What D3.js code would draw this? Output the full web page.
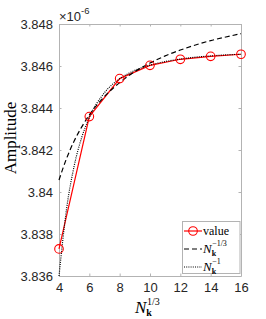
<!DOCTYPE html>
<html><head><meta charset="utf-8">
<script src="https://cdn.jsdelivr.net/npm/d3@7"></script>
<style>
body{margin:0;background:#fff;}
svg{display:block;}
</style></head>
<body><svg id="c" width="266" height="319"></svg>
<script>
// data (values in units of 1e-6)
const xValue = [4, 6, 8, 10, 12, 14, 16];
const yValue = [3.83729, 3.84359, 3.84540, 3.84603, 3.84632, 3.84646, 3.84656];
const xFit = [4, 4.5, 5, 5.5, 6, 7, 8, 9, 10, 11, 12, 13, 14, 15, 16];
const yFitCubeRoot = [3.84057, 3.84160, 3.84243, 3.84310, 3.84367, 3.84455, 3.84521, 3.84573, 3.84614, 3.84648, 3.84676, 3.84700, 3.84721, 3.84738, 3.84754];
const yFitInverse = [3.83600, 3.83920, 3.84124, 3.84260, 3.84355, 3.84473, 3.84539, 3.84579, 3.84604, 3.84621, 3.84633, 3.84642, 3.84648, 3.84653, 3.84656];
const xTicks = [4, 6, 8, 10, 12, 14, 16];
const yTicks = [3.836, 3.838, 3.84, 3.842, 3.844, 3.846, 3.848];
const yTickLabels = ["3.836", "3.838", "3.84", "3.842", "3.844", "3.846", "3.848"];

const svg = d3.select("#c");
const L = 59, R = 241, T = 24, B = 276;
const x = d3.scaleLinear().domain([4, 16]).range([L, R]);
const y = d3.scaleLinear().domain([3.836, 3.848]).range([B, T]);
const axisCol = "#b3b3b3";
const textCol = "#262626";
const sans = "'Liberation Sans', Arial, sans-serif";
const serif = "'Liberation Serif', 'Times New Roman', serif";

function styleAxis(g){
  g.selectAll("path.domain").attr("stroke", axisCol).attr("stroke-width", 1);
  g.selectAll(".tick line").attr("stroke", axisCol);
  g.selectAll(".tick text").attr("fill", textCol).attr("font-family", sans).attr("font-size", 13);
}
const gx = svg.append("g").attr("transform", `translate(0,${B})`)
  .call(d3.axisBottom(x).tickValues(xTicks).tickSizeInner(-2.5).tickSizeOuter(0).tickPadding(7).tickFormat(d3.format("d")));
styleAxis(gx);
const gxt = svg.append("g").attr("transform", `translate(0,${T})`)
  .call(d3.axisTop(x).tickValues(xTicks).tickSizeInner(-2.5).tickSizeOuter(0).tickFormat(""));
styleAxis(gxt);
const gy = svg.append("g").attr("transform", `translate(${L},0)`)
  .call(d3.axisLeft(y).tickValues(yTicks).tickSizeInner(-2.5).tickSizeOuter(0).tickPadding(6).tickFormat((d,i)=>yTickLabels[i]));
styleAxis(gy);
const gyr = svg.append("g").attr("transform", `translate(${R},0)`)
  .call(d3.axisRight(y).tickValues(yTicks).tickSizeInner(-2.5).tickSizeOuter(0).tickFormat(""));
styleAxis(gyr);

// exponent
const ex = svg.append("text").attr("x", L).attr("y", 21).attr("font-family", sans).attr("font-size", 13).attr("fill", textCol);
ex.append("tspan").text("×10");
ex.append("tspan").attr("dy", -7).attr("font-size", 9.5).text("-6");

// lines
const line = d3.line().x(d => x(d[0])).y(d => y(d[1]));
const smooth = d3.line().x(d => x(d[0])).y(d => y(d[1])).curve(d3.curveMonotoneX);
const dataCube = xFit.map((v,i)=>[v, yFitCubeRoot[i]]);
const dataInv = xFit.map((v,i)=>[v, yFitInverse[i]]);
const dataVal = xValue.map((v,i)=>[v, yValue[i]]);

svg.append("path").datum(dataVal).attr("d", line).attr("fill","none").attr("stroke","#ff0000").attr("stroke-width",1.2);
svg.append("path").datum(dataCube).attr("d", smooth).attr("fill","none").attr("stroke","#000").attr("stroke-width",1.2).attr("stroke-dasharray","5,3");
svg.append("path").datum(dataInv).attr("d", smooth).attr("fill","none").attr("stroke","#000").attr("stroke-width",1.2).attr("stroke-dasharray","1,1.2");
svg.selectAll("circle.pt").data(dataVal).enter().append("circle").attr("class","pt")
  .attr("cx", d=>x(d[0])).attr("cy", d=>y(d[1])).attr("r", 4.3)
  .attr("fill","none").attr("stroke","#ff0000").attr("stroke-width",1.1);

// axis labels
const xl = svg.append("text").attr("x", 135).attr("y", 313).attr("font-family", serif).attr("fill", "#000");
xl.append("tspan").attr("font-style","italic").attr("font-size",17).text("N");
xl.append("tspan").attr("font-weight","bold").attr("font-size",10).attr("dy",3).text("k");
xl.append("tspan").attr("font-size",10).attr("dy",-11).attr("dx",-5).text("1/3");

svg.append("text").attr("transform","translate(16,138) rotate(-90)").attr("text-anchor","middle")
  .attr("font-family", serif).attr("font-size", 17).attr("fill","#000").text("Amplitude");

// legend
const lg = svg.append("g");
lg.append("rect").attr("x",182.5).attr("y",221.5).attr("width",57.5).attr("height",52).attr("fill","#fff").attr("stroke","#b3b3b3").attr("stroke-width",1);
lg.append("line").attr("x1",184).attr("x2",202).attr("y1",231).attr("y2",231).attr("stroke","#f00").attr("stroke-width",1.2);
lg.append("circle").attr("cx",193).attr("cy",231).attr("r",4.3).attr("fill","none").attr("stroke","#f00").attr("stroke-width",1.1);
lg.append("line").attr("x1",184).attr("x2",202).attr("y1",249).attr("y2",249).attr("stroke","#000").attr("stroke-width",1.2).attr("stroke-dasharray","5,3");
lg.append("line").attr("x1",184).attr("x2",202).attr("y1",267).attr("y2",267).attr("stroke","#000").attr("stroke-width",1.2).attr("stroke-dasharray","1,1.2");
lg.append("text").attr("x",203).attr("y",234.5).attr("font-family",serif).attr("font-size",12).text("value");
const t2 = lg.append("text").attr("x",203).attr("y",252.5).attr("font-family",serif);
t2.append("tspan").attr("font-style","italic").attr("font-size",13).text("N");
t2.append("tspan").attr("font-weight","bold").attr("font-size",8).attr("dy",3).text("k");
t2.append("tspan").attr("font-size",8).attr("dy",-10).attr("dx",-4).text("−1/3");
const t3 = lg.append("text").attr("x",203).attr("y",270.5).attr("font-family",serif);
t3.append("tspan").attr("font-style","italic").attr("font-size",13).text("N");
t3.append("tspan").attr("font-weight","bold").attr("font-size",8).attr("dy",3).text("k");
t3.append("tspan").attr("font-size",8).attr("dy",-10).attr("dx",-4).text("−1");
</script></body></html>
